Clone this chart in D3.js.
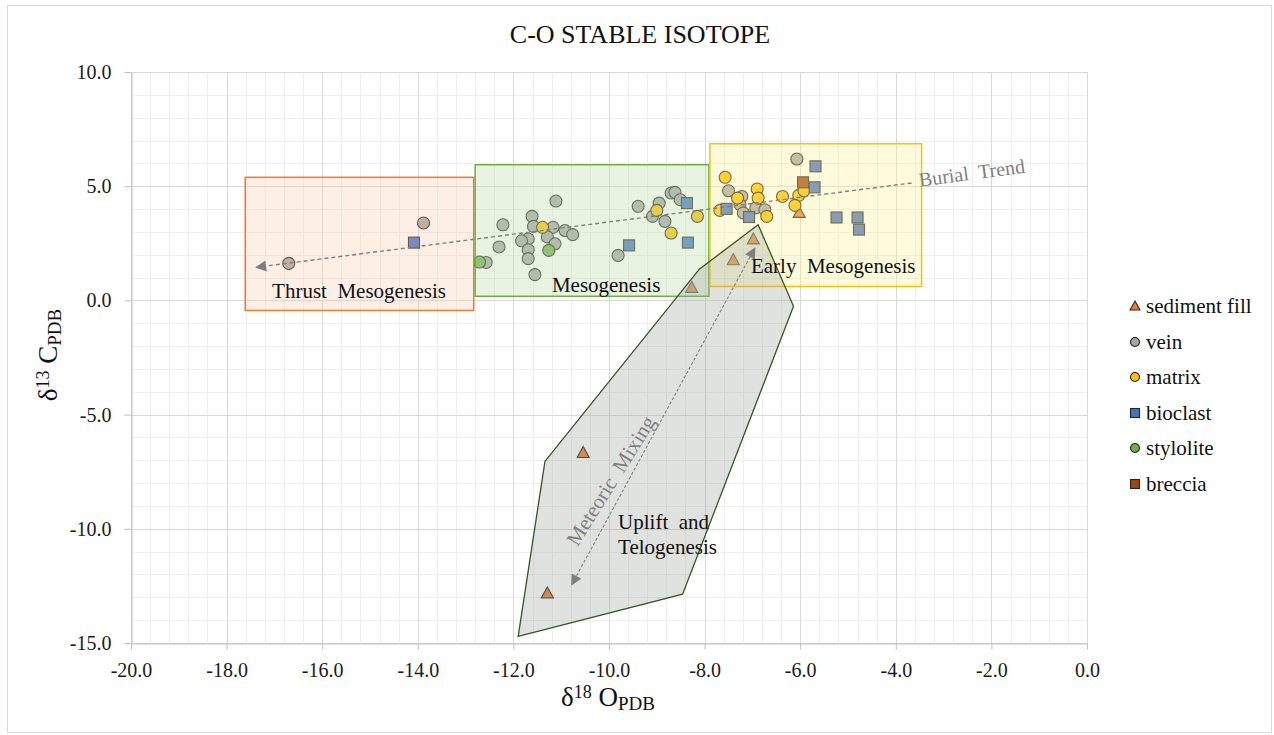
<!DOCTYPE html>
<html>
<head>
<meta charset="utf-8">
<script src="https://cdn.jsdelivr.net/npm/d3@7"></script>
<style>
body { margin: 0; background: #fff; }
svg text { font-family: "Liberation Serif", "Times New Roman", serif; }
</style>
</head>
<body>
<svg id="chart" width="1274" height="735"></svg>
<script>
// values: [d18O, d13C]
const sedimentFill = [[-8.27, 0.57], [-6.98, 2.69], [-7.40, 1.78], [-6.02, 3.85], [-10.54, -6.66], [-11.29, -12.81]];
const vein = [
    [-13.88, 3.39], [-16.70, 1.62],
    [-11.11, 4.35], [-12.22, 3.31], [-11.61, 3.68], [-11.58, 3.24], [-11.17, 3.20], [-10.92, 3.06],
    [-10.76, 2.88], [-11.29, 2.78], [-11.69, 2.69], [-11.83, 2.61], [-11.13, 2.48], [-11.69, 2.22],
    [-11.69, 1.83], [-12.30, 2.34], [-11.55, 1.13], [-12.57, 1.66], [-9.39, 4.12], [-8.95, 4.26],
    [-8.70, 4.70], [-8.62, 4.73], [-8.51, 4.41], [-9.09, 3.68], [-8.83, 3.46], [-9.81, 1.97],
    [-6.07, 6.19], [-7.50, 4.80], [-7.22, 4.55], [-7.26, 4.19], [-7.19, 3.83], [-6.93, 4.05], [-6.74, 3.97]
];
const matrix = [
    [-11.39, 3.20], [-9.00, 3.94], [-8.15, 3.68], [-8.70, 2.95], [-7.57, 5.39], [-7.31, 4.48],
    [-6.90, 4.88], [-6.88, 4.48], [-6.70, 3.68], [-7.68, 3.94], [-6.37, 4.55], [-6.03, 4.60],
    [-6.11, 4.16], [-5.92, 4.80]
];
const bioclast = [
    [-14.08, 2.53], [-8.37, 4.26], [-9.58, 2.41], [-8.35, 2.53], [-5.68, 5.87], [-5.70, 4.95],
    [-7.54, 4.01], [-7.07, 3.65], [-5.24, 3.63], [-4.80, 3.63], [-4.77, 3.10]
];
const stylolite = [[-12.71, 1.68], [-11.26, 2.19]];
const breccia = [[-5.94, 5.17]];

const xTicks = [-20, -18, -16, -14, -12, -10, -8, -6, -4, -2, 0];
const yTicks = [-15, -10, -5, 0, 5, 10];

// diagenetic zones (data coords)
const thrustZone = [[-17.61, -0.44], [-12.83, 5.39]];
const mesoZone = [[-12.80, 0.18], [-7.91, 5.94]];
const earlyZone = [[-7.89, 0.61], [-3.46, 6.86]];
const upliftZone = [[-11.34, -7.05], [-8.11, 1.37], [-6.88, 3.31], [-6.14, -0.26], [-8.46, -12.86], [-11.90, -14.71]];
const burialTrend = [[-3.67, 5.14], [-17.38, 1.45]];
const meteoricTrend = [[-6.95, 2.29], [-10.78, -12.45]];

const series = [
    { name: "sediment fill", data: sedimentFill, shape: "triangle", color: "#ED7D31" },
    { name: "vein", data: vein, shape: "circle", color: "#A5A5A5" },
    { name: "matrix", data: matrix, shape: "circle", color: "#FFC000" },
    { name: "bioclast", data: bioclast, shape: "square", color: "#4472C4" },
    { name: "stylolite", data: stylolite, shape: "circle", color: "#70AD47" },
    { name: "breccia", data: breccia, shape: "square", color: "#9E480E" }
];

const serif = "'Liberation Serif', 'Times New Roman', serif";
const svg = d3.select("#chart");
const x = d3.scaleLinear().domain([-20, 0]).range([131, 1087]);
const y = d3.scaleLinear().domain([-15, 10]).range([643, 72]);
const fmt = d => d.toFixed(1);

// outer frame
svg.append("rect")
    .attr("x", 7.5).attr("y", 5.5)
    .attr("width", 1264).attr("height", 727)
    .attr("fill", "#fff").attr("stroke", "#d9d9d9");

// title
svg.append("text")
    .attr("x", 640).attr("y", 43)
    .attr("text-anchor", "middle")
    .style("font-family", serif)
    .attr("font-size", 26)
    .attr("fill", "#111")
    .text("C-O STABLE ISOTOPE");

// grid
const grid = svg.append("g");
const xMinor = d3.range(0, 51).map(i => -20 + i * 0.4);
const yMinor = d3.range(-15, 11);
grid.selectAll(".xminor").data(xMinor).enter().append("line")
    .attr("x1", d => Math.round(x(d)) + 0.5).attr("x2", d => Math.round(x(d)) + 0.5)
    .attr("y1", y(10)).attr("y2", y(-15))
    .attr("stroke", "#efefef");
grid.selectAll(".yminor").data(yMinor).enter().append("line")
    .attr("y1", d => Math.round(y(d)) + 0.5).attr("y2", d => Math.round(y(d)) + 0.5)
    .attr("x1", x(-20)).attr("x2", x(0))
    .attr("stroke", "#efefef");
grid.selectAll(".xmajor").data(xTicks).enter().append("line")
    .attr("x1", d => Math.round(x(d)) + 0.5).attr("x2", d => Math.round(x(d)) + 0.5)
    .attr("y1", y(10)).attr("y2", y(-15))
    .attr("stroke", "#d9d9d9");
grid.selectAll(".ymajor").data(yTicks).enter().append("line")
    .attr("y1", d => Math.round(y(d)) + 0.5).attr("y2", d => Math.round(y(d)) + 0.5)
    .attr("x1", x(-20)).attr("x2", x(0))
    .attr("stroke", "#d9d9d9");

// axes
const xAxis = svg.append("g")
    .attr("transform", `translate(0,${Math.round(y(-15)) + 0.5})`)
    .call(d3.axisBottom(x).tickValues(xTicks).tickFormat(fmt).tickSize(6).tickSizeOuter(0).tickPadding(13));
const yAxis = svg.append("g")
    .attr("transform", `translate(${Math.round(x(-20)) + 0.5},0)`)
    .call(d3.axisLeft(y).tickValues(yTicks).tickFormat(fmt).tickSize(7).tickSizeOuter(0).tickPadding(13));
[xAxis, yAxis].forEach(a => {
    a.attr("font-family", null);
    a.select(".domain").attr("stroke", "#bfbfbf");
    a.selectAll(".tick line").attr("stroke", "#bfbfbf");
    a.selectAll(".tick text")
        .style("font-family", serif)
        .style("font-size", "20px")
        .attr("fill", "#1a1a1a");
});

// axis titles
const xt = svg.append("text")
    .attr("x", 608).attr("y", 706)
    .attr("text-anchor", "middle")
    .style("font-family", serif)
    .attr("font-size", 27).attr("fill", "#111");
xt.append("tspan").text("δ");
xt.append("tspan").attr("font-size", 18).attr("dy", -8).text("18");
xt.append("tspan").attr("dy", 8).text(" O");
xt.append("tspan").attr("font-size", 19).attr("dy", 4).text("PDB");

const yt = svg.append("text")
    .attr("transform", "translate(57,355) rotate(-90)")
    .attr("text-anchor", "middle")
    .style("font-family", serif)
    .attr("font-size", 27).attr("fill", "#111");
yt.append("tspan").text("δ");
yt.append("tspan").attr("font-size", 18).attr("dy", -8).text("13");
yt.append("tspan").attr("dy", 8).text(" C");
yt.append("tspan").attr("font-size", 19).attr("dy", 4).text("PDB");

// markers
function drawMarker(g, shape, color, size) {
    const s = size;
    if (shape === "circle") {
        g.append("circle").attr("r", s / 2);
    } else if (shape === "square") {
        g.append("rect").attr("x", -s / 2).attr("y", -s / 2).attr("width", s).attr("height", s);
    } else {
        g.append("path").attr("d", `M0,${-s * 0.55}L${s * 0.55},${s * 0.45}L${-s * 0.55},${s * 0.45}Z`);
    }
    g.selectAll("*").attr("fill", color).attr("stroke", "#262626").attr("stroke-width", 1.1);
}

const pts = svg.append("g");
series.forEach(s => {
    pts.append("g").selectAll("g").data(s.data).enter().append("g")
        .attr("transform", d => `translate(${x(d[0])},${y(d[1])})`)
        .each(function () { drawMarker(d3.select(this), s.shape, s.color, s.shape === "circle" ? 12 : 11); });
});

// zones on top, semi transparent
function zoneRect(z, fill, op, stroke) {
    svg.append("rect")
        .attr("x", x(z[0][0])).attr("y", y(z[1][1]))
        .attr("width", x(z[1][0]) - x(z[0][0]))
        .attr("height", y(z[0][1]) - y(z[1][1]))
        .attr("fill", fill).attr("fill-opacity", op)
        .attr("stroke", stroke).attr("stroke-width", 1.5);
}
zoneRect(thrustZone, "#F8CBAD", 0.3, "#ED7D31");
zoneRect(mesoZone, "#C5E0B4", 0.4, "#70AD47");
zoneRect(earlyZone, "#FFF299", 0.35, "#FFC000");

svg.append("path")
    .attr("d", d3.line().x(d => x(d[0])).y(d => y(d[1]))(upliftZone) + "Z")
    .attr("fill", "#9aa69a").attr("fill-opacity", 0.32)
    .attr("stroke", "#375623").attr("stroke-width", 1.3);

// arrows
const defs = svg.append("defs");
defs.append("marker")
    .attr("id", "arrow").attr("viewBox", "0 0 10 10")
    .attr("refX", 9).attr("refY", 5)
    .attr("markerUnits", "userSpaceOnUse")
    .attr("markerWidth", 13).attr("markerHeight", 11)
    .attr("orient", "auto-start-reverse")
    .append("path").attr("d", "M0,0L10,5L0,10Z").attr("fill", "#7f7f7f");

const line = d3.line().x(d => x(d[0])).y(d => y(d[1]));
svg.append("path")
    .attr("d", line(burialTrend))
    .attr("fill", "none").attr("stroke", "#7f7f7f")
    .attr("stroke-width", 1.4).attr("stroke-dasharray", "4,3")
    .attr("marker-end", "url(#arrow)");
svg.append("path")
    .attr("d", line(meteoricTrend))
    .attr("fill", "none").attr("stroke", "#7f7f7f")
    .attr("stroke-width", 1.1).attr("stroke-dasharray", "3,2")
    .attr("marker-start", "url(#arrow)")
    .attr("marker-end", "url(#arrow)");

// zone labels
function label(txt, px, py, anchor, size, color, rot) {
    return svg.append("text")
        .attr("transform", `translate(${x(px)},${y(py)}) rotate(${rot || 0})`)
        .attr("text-anchor", anchor)
        .style("font-family", serif)
        .attr("font-size", size).attr("fill", color)
        .style("white-space", "pre")
        .text(txt);
}
label("Thrust  Mesogenesis", -15.23, 0.12, "middle", 21, "#111");
label("Mesogenesis", -10.06, 0.35, "middle", 21, "#111");
label("Early  Mesogenesis", -5.31, 1.21, "middle", 21, "#111");
label("Uplift  and", -9.81, -10.01, "start", 21, "#111");
label("Telogenesis", -9.81, -11.09, "start", 21, "#111");
label("Burial  Trend", -2.41, 5.59, "middle", 20, "#7f7f7f", -7.5).attr("dominant-baseline", "central");
label("Meteoric  Mixing", -9.96, -7.89, "middle", 21, "#7f7f7f", -58).attr("dominant-baseline", "central");

// legend
const legend = svg.append("g");
const legendY = [306, 342, 377, 413, 448, 484];
series.forEach((s, i) => {
    const g = legend.append("g").attr("transform", `translate(1135,${legendY[i]})`);
    drawMarker(g.append("g"), s.shape, s.color, 9);
    g.append("text")
        .attr("x", 11).attr("y", 0)
        .attr("dominant-baseline", "central")
        .style("font-family", serif)
        .attr("font-size", 21).attr("fill", "#111")
        .text(s.name);
});
</script>
</body>
</html>
